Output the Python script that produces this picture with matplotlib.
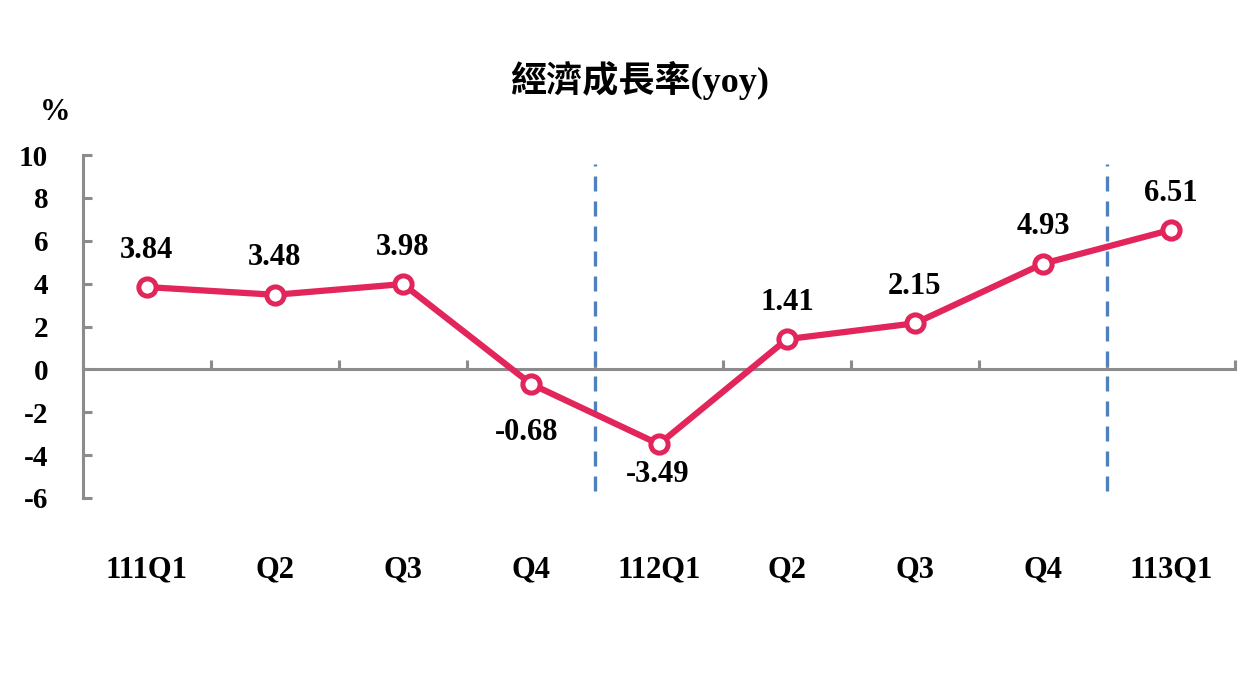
import matplotlib
matplotlib.use("Agg")
import matplotlib.pyplot as plt
from matplotlib.ticker import MultipleLocator, FixedLocator

# data
quarters = ["111Q1", "Q2", "Q3", "Q4", "112Q1", "Q2", "Q3", "Q4", "113Q1"]
growth = [3.84, 3.48, 3.98, -0.68, -3.49, 1.41, 2.15, 4.93, 6.51]
year_breaks = [3.5, 7.5]

line_col = "#E2255A"
axis_col = "#8C8C8C"
dash_col = "#4F81BD"
serif = ["Liberation Serif", "Noto Sans CJK TC"]

plt.rcParams["font.family"] = serif
plt.rcParams["font.weight"] = "bold"
plt.rcParams["axes.unicode_minus"] = False

fig = plt.figure(figsize=(12.57, 6.82), dpi=100)
ax = fig.add_axes([0.066, 0.2698, 0.9165, 0.5029])

x = list(range(len(growth)))
ax.plot(x, growth, color=line_col, lw=4.5, marker="o", ms=12.4,
        mfc="white", mec=line_col, mew=3.6, zorder=3, clip_on=False)

for xb in year_breaks:
    ax.axvline(xb, ymin=0.02, ymax=0.975, color=dash_col, lw=2.4,
               ls=(0, (4.5, 3)), zorder=2)

# value labels
for xi, v in zip(x, growth):
    if v == -0.68:
        off = (-3, -35)
    elif v < 0:
        off = (-1, -22)
    else:
        off = (0, 26.5)
    ax.annotate(f"{v:.2f}", (xi, v), xytext=off, textcoords="offset points",
                ha="center", va="center", fontsize=22, fontweight="bold")

ax.set_xlim(-0.5, len(growth) - 0.5)
ax.set_ylim(-6, 10)
ax.yaxis.set_major_locator(MultipleLocator(2))
ax.xaxis.set_major_locator(FixedLocator([i + 0.5 for i in range(-1, len(growth))]))
ax.set_xticklabels([])

for s in ["top", "right"]:
    ax.spines[s].set_visible(False)
ax.spines["bottom"].set_position(("data", 0))
for s in ["left", "bottom"]:
    ax.spines[s].set_color(axis_col)
    ax.spines[s].set_linewidth(2.2)

ax.tick_params(axis="y", direction="in", length=6.5, width=2.2, color=axis_col,
               pad=25, labelsize=21)
ax.tick_params(axis="x", direction="in", length=6.5, width=2.2, color=axis_col)
for lab in ax.get_yticklabels():
    lab.set_fontweight("bold")

for xi, q in zip(x, quarters):
    ax.text(xi, -0.21, q, transform=ax.get_xaxis_transform(), ha="center",
            va="center", fontsize=22, fontweight="bold")

fig.text(0.044, 1 - 112 / 682, "%", ha="center", va="center", fontsize=22,
         fontweight="bold")
fig.text(0.509, 1 - 80 / 682, "經濟成長率(yoy)", ha="center", va="center",
         fontsize=26, fontweight="bold", family=serif)

fig.savefig("out.png", dpi=100)
